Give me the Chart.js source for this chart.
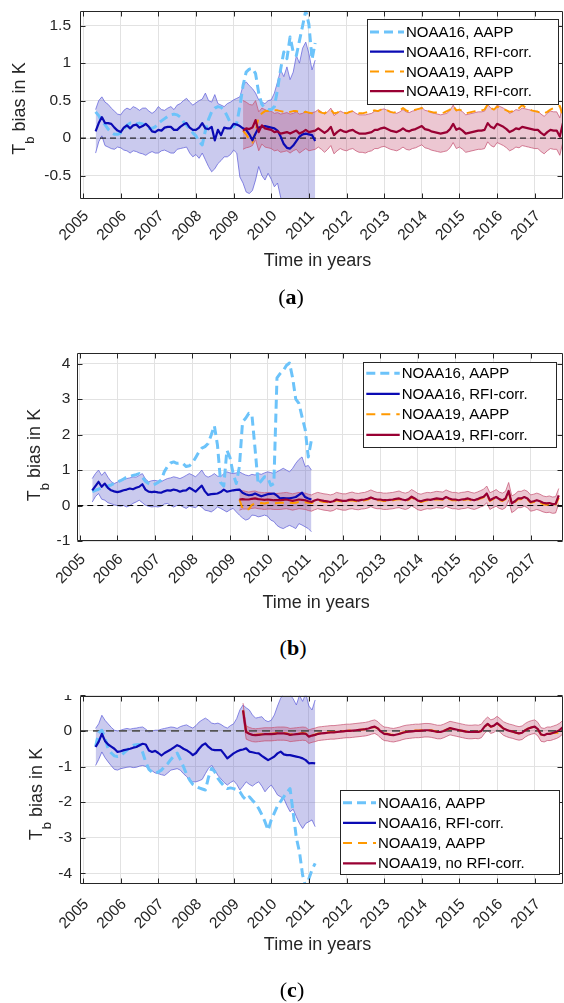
<!DOCTYPE html>
<html>
<head>
<meta charset="utf-8">
<title>Tb bias</title>
<script src="https://cdn.jsdelivr.net/npm/chart.js@4.4.1/dist/chart.umd.min.js"></script>
<style>
  html, body { margin: 0; padding: 0; background: #fff; }
  #page { position: relative; width: 564px; height: 1003px; overflow: hidden; }
  canvas { position: absolute; left: 0; }
  .sub { position: absolute; width: 60px; margin-left: -30px; text-align: center;
         font: 22px/24px "Liberation Serif", "Times New Roman", serif; color: #000; }
</style>
</head>
<body>
<div id="page">
  <canvas id="chartA" width="564" height="290" style="top:0px"></canvas>
  <canvas id="chartB" width="564" height="290" style="top:340px"></canvas>
  <canvas id="chartC" width="564" height="285" style="top:695px"></canvas>
  <div class="sub" style="left:291px;top:285px">(<b>a</b>)</div>
  <div class="sub" style="left:293px;top:636px">(<b>b</b>)</div>
  <div class="sub" style="left:292px;top:978px">(<b>c</b>)</div>
</div>
<script>
// tick values and legend texts
const yearTicks = [2005, 2006, 2007, 2008, 2009, 2010, 2011, 2012, 2013, 2014, 2015, 2016, 2017];
const ticksA = [-0.5, 0, 0.5, 1, 1.5];
const ticksB = [-1, 0, 1, 2, 3, 4];
const ticksC = [-4, -3, -2, -1, 0, 1];
const labelsAB = ['NOAA16, AAPP', 'NOAA16, RFI-corr.', 'NOAA19, AAPP', 'NOAA19, RFI-corr.'];
const labelsC = ['NOAA16, AAPP', 'NOAA16, RFI-corr.', 'NOAA19, AAPP', 'NOAA19, no RFI-corr.'];

// monthly time axes: NOAA16 May 2005 .. Mar 2011, NOAA19 Apr 2009 .. Oct 2017
function monthAxis(year, month, count) {
    let t = [];
    for (let i = 0; i < count; i++) {
        t.push(year + (month - 1 + i) / 12);
    }
    return t;
}
const time16 = monthAxis(2005, 5, 71);
const time19 = monthAxis(2009, 4, 103);

// ---- panel (a) ----
const a16aapp = [0.35,0.3,0.22,0.18,0.12,0.08,0.05,0.05,0.07,0.12,
    0.17,0.2,0.2,0.19,0.2,0.19,0.15,0.13,0.13,0.15,
    0.2,0.23,0.26,0.29,0.31,0.32,0.31,0.28,0.22,0.17,
    0.12,0.07,0.03,-0.05,-0.09,0.1,0.25,0.35,0.4,0.42,
    0.41,0.37,0.29,0.2,0.15,0.2,0.42,0.7,0.88,0.92,
    0.93,0.86,0.6,0.45,0.4,0.38,0.38,0.42,0.65,0.92,
    1.15,1.06,1.35,1.15,1.1,1.3,1.5,1.7,1.52,1.05,
    1.27];
const a16rfi = [0.09,0.2,0.28,0.2,0.2,0.19,0.14,0.1,0.08,0.14,
    0.17,0.13,0.17,0.18,0.14,0.16,0.19,0.15,0.09,0.08,
    0.11,0.1,0.14,0.15,0.15,0.11,0.11,0.15,0.18,0.2,
    0.14,0.11,0.11,0.14,0.2,0.13,0.12,0.15,-0.03,0.11,
    0.04,0.14,0.13,0.13,0.19,0.18,0.16,0.13,0.11,0.05,
    -0.03,0.06,0.14,0.15,0.16,0.15,0.14,0.13,0.1,0.02,
    -0.08,-0.13,-0.14,-0.1,-0.04,0.02,0.05,0.06,0.05,0.04,
    -0.04];
const a16hi = [0.38,0.5,0.55,0.48,0.45,0.4,0.36,0.32,0.31,0.37,
    0.4,0.38,0.42,0.4,0.37,0.4,0.4,0.36,0.33,0.36,
    0.42,0.38,0.37,0.4,0.42,0.38,0.44,0.46,0.5,0.53,
    0.48,0.44,0.47,0.5,0.52,0.6,0.5,0.48,0.58,0.46,
    0.44,0.42,0.46,0.48,0.51,0.53,0.55,0.7,0.75,0.7,
    0.66,0.6,0.51,0.48,0.46,0.5,0.51,0.6,0.75,0.91,
    0.82,0.95,0.78,0.88,1.1,1.0,1.2,1.28,1.13,0.91,
    1.04];
const a16lo = [-0.2,-0.05,0.03,-0.1,-0.12,-0.14,-0.15,-0.12,-0.13,-0.16,
    -0.17,-0.2,-0.17,-0.18,-0.2,-0.21,-0.23,-0.2,-0.18,-0.2,
    -0.2,-0.17,-0.16,-0.18,-0.2,-0.2,-0.15,-0.14,-0.13,-0.12,
    -0.2,-0.25,-0.22,-0.27,-0.2,-0.29,-0.38,-0.45,-0.41,-0.34,
    -0.3,-0.25,-0.25,-0.22,-0.16,-0.2,-0.52,-0.6,-0.72,-0.74,
    -0.7,-0.56,-0.38,-0.5,-0.56,-0.47,-0.55,-0.65,-0.6,-0.79,
    -1.0,-1.2,-1.3,-1.2,-1.3,-1.4,-1.2,-1.3,-0.95,-0.8,
    -0.95];
const a19aapp = [0.1,0.05,-0.02,-0.06,0.1,0.28,0.33,0.36,0.36,0.37,
    0.37,0.37,0.36,0.35,0.34,0.35,0.36,0.36,0.35,0.34,
    0.35,0.34,0.33,0.35,0.36,0.34,0.33,0.36,0.38,0.33,
    0.34,0.36,0.34,0.33,0.35,0.36,0.34,0.33,0.33,0.34,
    0.35,0.36,0.37,0.36,0.38,0.39,0.37,0.35,0.34,0.35,
    0.37,0.4,0.37,0.35,0.36,0.38,0.39,0.4,0.37,0.36,
    0.35,0.34,0.34,0.33,0.34,0.36,0.38,0.43,0.37,0.38,
    0.36,0.33,0.34,0.35,0.36,0.37,0.37,0.38,0.45,0.4,
    0.38,0.42,0.4,0.39,0.37,0.35,0.36,0.38,0.4,0.44,
    0.41,0.39,0.37,0.36,0.35,0.34,0.33,0.35,0.38,0.4,
    0.41,0.43,0.28];
const a19rfi = [0.1,0.13,0.12,0.14,0.24,0.08,0.17,0.13,0.12,0.11,
    0.08,0.09,0.06,0.07,0.08,0.06,0.08,0.1,0.06,0.08,
    0.11,0.08,0.09,0.1,0.13,0.1,0.07,0.1,0.15,0.04,
    0.08,0.11,0.09,0.08,0.1,0.11,0.08,0.06,0.06,0.06,
    0.07,0.08,0.11,0.11,0.13,0.14,0.12,0.1,0.09,0.08,
    0.1,0.13,0.1,0.09,0.11,0.12,0.14,0.16,0.12,0.11,
    0.09,0.08,0.07,0.06,0.07,0.08,0.12,0.19,0.11,0.13,
    0.1,0.06,0.07,0.08,0.09,0.1,0.1,0.11,0.2,0.15,
    0.13,0.19,0.17,0.15,0.12,0.08,0.1,0.13,0.12,0.15,
    0.14,0.13,0.12,0.11,0.11,0.07,0.04,0.08,0.11,0.1,
    0.1,0.02,0.2];
const a19hi = [0.5,0.48,0.45,0.44,0.5,0.35,0.4,0.38,0.36,0.36,
    0.33,0.34,0.32,0.33,0.34,0.32,0.33,0.35,0.32,0.33,
    0.36,0.33,0.34,0.35,0.38,0.35,0.32,0.35,0.4,0.3,
    0.33,0.36,0.34,0.33,0.35,0.36,0.33,0.31,0.31,0.31,
    0.32,0.33,0.36,0.36,0.38,0.39,0.37,0.35,0.34,0.33,
    0.35,0.38,0.35,0.34,0.36,0.37,0.39,0.41,0.37,0.36,
    0.34,0.33,0.32,0.31,0.32,0.33,0.37,0.44,0.36,0.38,
    0.35,0.31,0.32,0.33,0.34,0.35,0.35,0.36,0.45,0.4,
    0.38,0.44,0.42,0.4,0.37,0.33,0.35,0.38,0.37,0.4,
    0.39,0.38,0.37,0.36,0.36,0.32,0.29,0.33,0.36,0.35,
    0.35,0.27,0.45];
const a19lo = [-0.15,-0.13,-0.12,-0.1,-0.02,-0.17,-0.08,-0.12,-0.13,-0.14,
    -0.17,-0.16,-0.19,-0.18,-0.17,-0.2,-0.17,-0.15,-0.2,-0.17,
    -0.14,-0.17,-0.16,-0.15,-0.12,-0.15,-0.19,-0.15,-0.1,-0.21,
    -0.17,-0.14,-0.16,-0.17,-0.15,-0.14,-0.17,-0.19,-0.19,-0.2,
    -0.18,-0.17,-0.14,-0.14,-0.12,-0.11,-0.13,-0.15,-0.16,-0.17,
    -0.15,-0.12,-0.15,-0.16,-0.14,-0.13,-0.11,-0.09,-0.13,-0.14,
    -0.16,-0.17,-0.18,-0.19,-0.18,-0.17,-0.13,-0.06,-0.14,-0.12,
    -0.15,-0.19,-0.18,-0.17,-0.16,-0.15,-0.15,-0.14,-0.05,-0.1,
    -0.12,-0.06,-0.08,-0.1,-0.13,-0.17,-0.15,-0.12,-0.13,-0.1,
    -0.11,-0.12,-0.13,-0.14,-0.14,-0.18,-0.21,-0.17,-0.14,-0.15,
    -0.15,-0.23,-0.05];

// ---- panel (b) ----
const b16aapp = [0.39,0.43,0.46,0.5,0.52,0.55,0.58,0.62,0.66,0.7,
    0.75,0.8,0.82,0.85,0.87,0.9,0.8,0.68,0.62,0.57,
    0.6,0.65,0.72,0.95,1.1,1.2,1.23,1.19,1.2,1.18,
    1.1,1.12,1.2,1.35,1.5,1.62,1.66,1.75,1.99,2.25,
    1.7,0.65,0.55,1.56,1.35,0.9,0.62,1.1,2.36,2.46,
    2.6,2.55,1.6,0.6,0.7,0.81,0.8,0.57,0.62,3.6,
    3.72,3.8,3.95,4.02,3.6,3.0,2.88,2.5,2.15,1.37,
    1.85];
const b16rfi = [0.43,0.55,0.67,0.53,0.62,0.5,0.43,0.4,0.38,0.4,
    0.43,0.45,0.48,0.46,0.5,0.53,0.6,0.45,0.39,0.38,
    0.39,0.37,0.36,0.4,0.43,0.42,0.45,0.43,0.39,0.42,
    0.43,0.5,0.45,0.39,0.48,0.56,0.4,0.3,0.32,0.33,
    0.34,0.38,0.45,0.39,0.41,0.43,0.44,0.45,0.36,0.32,
    0.29,0.3,0.34,0.3,0.26,0.29,0.32,0.33,0.34,0.28,
    0.2,0.21,0.2,0.2,0.22,0.24,0.3,0.36,0.24,0.2,
    0.17];
const b16hi = [0.76,0.9,1.0,0.85,0.95,0.8,0.68,0.62,0.66,0.71,
    0.73,0.76,0.78,0.81,0.8,0.85,0.9,0.75,0.67,0.7,
    0.71,0.69,0.67,0.72,0.76,0.78,0.81,0.79,0.76,0.8,
    0.85,0.9,0.86,0.81,0.9,1.0,0.85,0.8,0.84,0.9,
    0.83,0.81,0.9,0.95,0.92,0.9,0.92,0.95,0.9,0.86,
    0.84,0.88,0.86,0.9,0.88,0.92,0.95,0.93,0.9,0.95,
    1.0,1.05,1.0,0.95,1.05,1.19,1.3,1.37,1.1,1.13,
    1.0];
const b16lo = [0.1,0.25,0.34,0.18,0.15,0.08,0.05,0.02,0.0,-0.02,
    0.0,-0.04,0.0,0.06,0.1,0.15,0.08,0.01,-0.02,-0.04,
    -0.03,-0.04,-0.02,0.04,0.06,0.0,-0.04,0.0,0.01,-0.04,
    -0.08,-0.02,-0.04,-0.06,0.01,-0.05,-0.13,-0.15,-0.18,-0.12,
    -0.04,-0.08,-0.13,-0.18,-0.12,-0.08,-0.18,-0.27,-0.35,-0.41,
    -0.38,-0.27,-0.28,-0.32,-0.3,-0.27,-0.3,-0.41,-0.45,-0.56,
    -0.62,-0.65,-0.6,-0.56,-0.6,-0.65,-0.51,-0.55,-0.6,-0.65,
    -0.74];
const b19aapp = [0.17,-0.08,-0.13,-0.1,0.02,0.06,0.06,0.07,0.06,0.08,
    0.07,0.06,0.07,0.08,0.08,0.09,0.08,0.07,0.08,0.1,
    0.1,0.09,0.08,0.07,0.1,0.13,0.12,0.1,0.1,0.08,
    0.1,0.15,0.13,0.11,0.11,0.14,0.15,0.13,0.12,0.14,
    0.15,0.17,0.21,0.17,0.15,0.15,0.13,0.13,0.14,0.15,
    0.17,0.18,0.15,0.13,0.16,0.23,0.18,0.12,0.1,0.13,
    0.15,0.14,0.16,0.18,0.17,0.16,0.22,0.18,0.15,0.15,
    0.13,0.15,0.16,0.18,0.15,0.13,0.16,0.2,0.23,0.32,
    0.13,0.18,0.22,0.16,0.13,0.18,0.38,0.04,0.1,0.18,
    0.18,0.22,0.18,0.08,0.1,0.13,0.08,0.04,0.02,0.04,
    0.02,0.03,0.22];
const b19rfi = [0.17,0.18,0.17,0.17,0.19,0.2,0.18,0.17,0.16,0.17,
    0.16,0.15,0.15,0.15,0.16,0.17,0.15,0.13,0.15,0.17,
    0.16,0.15,0.12,0.1,0.14,0.17,0.15,0.13,0.12,0.1,
    0.12,0.17,0.15,0.13,0.13,0.16,0.17,0.15,0.14,0.16,
    0.17,0.19,0.23,0.19,0.17,0.17,0.15,0.15,0.16,0.17,
    0.19,0.2,0.17,0.15,0.18,0.25,0.2,0.14,0.12,0.15,
    0.17,0.16,0.18,0.2,0.19,0.18,0.24,0.2,0.17,0.17,
    0.15,0.17,0.18,0.2,0.17,0.15,0.18,0.22,0.25,0.34,
    0.15,0.2,0.24,0.18,0.15,0.2,0.41,0.06,0.12,0.2,
    0.2,0.24,0.2,0.1,0.12,0.15,0.12,0.08,0.06,0.07,
    0.04,0.05,0.29];
const b19hi = [0.43,0.42,0.4,0.38,0.4,0.41,0.38,0.37,0.36,0.37,
    0.36,0.34,0.34,0.35,0.36,0.37,0.35,0.33,0.35,0.37,
    0.36,0.35,0.32,0.3,0.34,0.37,0.35,0.33,0.32,0.3,
    0.32,0.37,0.35,0.33,0.33,0.36,0.38,0.35,0.34,0.36,
    0.37,0.4,0.44,0.4,0.37,0.37,0.35,0.35,0.36,0.37,
    0.39,0.41,0.37,0.35,0.38,0.45,0.4,0.34,0.32,0.35,
    0.37,0.36,0.38,0.4,0.39,0.38,0.44,0.4,0.37,0.37,
    0.35,0.37,0.38,0.4,0.37,0.35,0.38,0.42,0.46,0.55,
    0.36,0.4,0.45,0.38,0.35,0.4,0.65,0.27,0.32,0.4,
    0.4,0.44,0.4,0.3,0.32,0.35,0.32,0.27,0.25,0.27,
    0.24,0.25,0.48];
const b19lo = [-0.13,-0.1,-0.1,-0.1,-0.08,-0.07,-0.09,-0.1,-0.11,-0.1,
    -0.1,-0.11,-0.11,-0.11,-0.1,-0.09,-0.11,-0.13,-0.11,-0.09,
    -0.1,-0.11,-0.14,-0.16,-0.12,-0.09,-0.11,-0.13,-0.14,-0.16,
    -0.14,-0.09,-0.11,-0.13,-0.13,-0.1,-0.09,-0.11,-0.12,-0.1,
    -0.09,-0.07,-0.03,-0.07,-0.09,-0.09,-0.11,-0.11,-0.1,-0.09,
    -0.07,-0.06,-0.09,-0.11,-0.08,-0.01,-0.06,-0.12,-0.14,-0.11,
    -0.09,-0.1,-0.08,-0.06,-0.07,-0.08,-0.02,-0.06,-0.09,-0.09,
    -0.11,-0.09,-0.08,-0.06,-0.09,-0.11,-0.08,-0.04,-0.01,0.08,
    -0.11,-0.06,-0.02,-0.08,-0.11,-0.06,0.15,-0.2,-0.14,-0.06,
    -0.06,-0.02,-0.06,-0.16,-0.14,-0.11,-0.14,-0.18,-0.2,-0.19,
    -0.22,-0.21,0.05];

// ---- panel (c) ----
const c16aapp = [-0.44,-0.05,0.02,-0.2,-0.5,-0.62,-0.7,-0.72,-0.7,-0.62,
    -0.54,-0.47,-0.4,-0.39,-0.38,-0.6,-0.88,-1.08,-1.16,-1.19,
    -1.15,-1.1,-1.0,-0.92,-0.8,-0.7,-0.62,-0.8,-1.0,-1.22,
    -1.38,-1.5,-1.55,-1.6,-1.63,-1.66,-1.3,-1.05,-1.15,-1.33,
    -1.45,-1.55,-1.62,-1.6,-1.62,-1.65,-1.71,-1.85,-1.94,-1.85,
    -1.95,-2.04,-2.18,-2.35,-2.55,-2.79,-2.5,-2.3,-2.1,-1.98,
    -1.85,-1.72,-1.62,-2.3,-3.0,-3.4,-4.05,-4.4,-4.15,-3.9,
    -3.72];
const c16rfi = [-0.45,-0.3,-0.08,-0.28,-0.38,-0.44,-0.5,-0.59,-0.57,-0.54,
    -0.52,-0.5,-0.47,-0.45,-0.4,-0.36,-0.38,-0.55,-0.59,-0.56,
    -0.62,-0.69,-0.62,-0.57,-0.52,-0.46,-0.4,-0.44,-0.5,-0.54,
    -0.6,-0.68,-0.62,-0.5,-0.4,-0.35,-0.45,-0.52,-0.54,-0.54,
    -0.54,-0.65,-0.77,-0.7,-0.63,-0.58,-0.54,-0.52,-0.49,-0.58,
    -0.6,-0.62,-0.63,-0.7,-0.76,-0.82,-0.77,-0.72,-0.63,-0.58,
    -0.66,-0.68,-0.68,-0.7,-0.72,-0.74,-0.77,-0.82,-0.91,-0.9,
    -0.91];
const c16hi = [0.07,0.2,0.44,0.3,0.2,0.1,0.02,0.0,0.02,0.05,
    0.07,0.05,0.07,0.08,0.1,0.11,0.05,-0.03,0.0,0.02,
    0.02,0.05,0.07,0.09,0.11,0.1,0.07,0.12,0.15,0.17,
    0.12,0.08,0.15,0.25,0.31,0.36,0.3,0.22,0.2,0.22,
    0.18,0.12,0.08,0.15,0.2,0.35,0.59,0.73,0.65,0.59,
    0.45,0.36,0.38,0.4,0.3,0.26,0.3,0.45,0.7,0.92,
    1.05,1.1,1.02,0.9,0.73,1.0,0.83,1.05,0.7,0.59,
    0.87];
const c16lo = [-0.97,-0.8,-0.59,-0.75,-0.87,-0.98,-1.08,-1.1,-1.06,-1.04,
    -1.02,-1.01,-1.03,-1.02,-0.99,-0.97,-1.0,-1.06,-1.12,-1.18,
    -1.2,-1.23,-1.25,-1.18,-1.1,-1.08,-1.06,-1.1,-1.2,-1.28,
    -1.38,-1.43,-1.43,-1.4,-1.36,-1.2,-1.05,-0.96,-1.1,-1.25,
    -1.35,-1.45,-1.52,-1.45,-1.4,-1.5,-1.66,-1.55,-1.43,-1.5,
    -1.55,-1.48,-1.43,-1.55,-1.71,-1.6,-1.52,-1.65,-1.8,-1.85,
    -1.9,-2.1,-2.27,-2.2,-2.41,-2.6,-2.74,-2.6,-2.55,-2.5,
    -2.69];
const c19aapp = [0.58,-0.02,-0.07,-0.1,-0.11,-0.1,-0.09,-0.08,-0.08,-0.08,
    -0.07,-0.06,-0.06,-0.06,-0.07,-0.1,-0.09,-0.08,-0.07,-0.06,
    -0.07,-0.15,-0.12,-0.1,-0.07,-0.06,-0.05,-0.04,-0.03,-0.03,
    -0.02,-0.01,0.0,0.0,0.01,0.02,0.02,0.03,0.04,0.05,
    0.07,0.1,0.11,0.07,-0.01,-0.07,-0.08,-0.1,-0.11,-0.09,
    -0.07,-0.04,-0.02,-0.01,0.0,0.01,0.01,0.02,0.03,0.02,
    0.02,0.0,-0.02,-0.02,0.01,0.04,0.07,0.06,0.04,0.02,
    0.0,-0.01,-0.03,-0.03,-0.02,-0.03,0.0,0.11,0.19,0.12,
    0.14,0.21,0.14,0.07,0.03,0.0,-0.02,-0.05,-0.07,-0.05,
    0.02,0.07,0.1,0.11,0.04,-0.1,-0.12,-0.08,-0.07,-0.06,
    -0.05,-0.05,-0.04];
const c19rfi = [0.58,-0.03,-0.08,-0.11,-0.12,-0.11,-0.1,-0.09,-0.09,-0.09,
    -0.08,-0.07,-0.07,-0.07,-0.08,-0.11,-0.1,-0.09,-0.08,-0.07,
    -0.08,-0.16,-0.13,-0.11,-0.08,-0.07,-0.06,-0.05,-0.04,-0.04,
    -0.03,-0.02,-0.01,0.0,0.0,0.01,0.02,0.03,0.04,0.05,
    0.07,0.1,0.12,0.07,-0.02,-0.08,-0.09,-0.11,-0.12,-0.1,
    -0.08,-0.05,-0.03,-0.02,-0.01,0.0,0.0,0.01,0.02,0.02,
    0.01,-0.01,-0.03,-0.03,0.0,0.04,0.08,0.06,0.04,0.02,
    0.0,-0.02,-0.03,-0.03,-0.02,-0.03,0.0,0.12,0.2,0.12,
    0.15,0.22,0.15,0.07,0.03,0.0,-0.02,-0.05,-0.07,-0.05,
    0.02,0.07,0.1,0.12,0.05,-0.1,-0.12,-0.08,-0.08,-0.05,
    -0.02,0.03,0.11];
const c19hi = [0.78,0.14,0.1,0.07,0.06,0.07,0.08,0.09,0.09,0.09,
    0.1,0.11,0.11,0.11,0.1,0.07,0.08,0.09,0.1,0.11,
    0.1,0.03,0.06,0.08,0.11,0.12,0.13,0.14,0.15,0.15,
    0.16,0.17,0.18,0.19,0.19,0.2,0.21,0.22,0.23,0.24,
    0.26,0.29,0.31,0.26,0.17,0.11,0.1,0.08,0.07,0.09,
    0.11,0.14,0.16,0.17,0.18,0.19,0.19,0.2,0.21,0.21,
    0.2,0.18,0.16,0.16,0.19,0.23,0.27,0.25,0.23,0.21,
    0.19,0.17,0.16,0.16,0.17,0.16,0.19,0.31,0.39,0.31,
    0.34,0.41,0.34,0.26,0.22,0.19,0.17,0.14,0.12,0.14,
    0.21,0.26,0.29,0.31,0.24,0.09,0.07,0.11,0.11,0.14,
    0.17,0.22,0.3];
const c19lo = [0.4,-0.23,-0.27,-0.3,-0.31,-0.3,-0.29,-0.28,-0.28,-0.28,
    -0.27,-0.26,-0.26,-0.26,-0.27,-0.3,-0.29,-0.28,-0.27,-0.26,
    -0.27,-0.35,-0.32,-0.3,-0.27,-0.26,-0.25,-0.24,-0.23,-0.23,
    -0.22,-0.21,-0.2,-0.19,-0.19,-0.18,-0.17,-0.16,-0.15,-0.14,
    -0.12,-0.09,-0.07,-0.12,-0.21,-0.27,-0.28,-0.3,-0.31,-0.29,
    -0.27,-0.24,-0.22,-0.21,-0.2,-0.19,-0.19,-0.18,-0.17,-0.17,
    -0.18,-0.2,-0.22,-0.22,-0.19,-0.15,-0.11,-0.13,-0.15,-0.17,
    -0.19,-0.21,-0.22,-0.22,-0.21,-0.22,-0.19,-0.07,0.01,-0.07,
    -0.04,0.03,-0.04,-0.12,-0.16,-0.19,-0.21,-0.24,-0.26,-0.24,
    -0.17,-0.12,-0.09,-0.07,-0.14,-0.29,-0.31,-0.27,-0.27,-0.24,
    -0.21,-0.16,-0.08];

const FONT = '"Liberation Sans", Arial, sans-serif';
const INK = '#262626';
const GRID = '#e2e2e2';

function pts(t, v) {
    return v.map((y, i) => ({x: t[i], y: y}));
}

// draws the axes box, inward ticks, legend and axis titles
function framePlugin(p) {
    return {
        id: 'frame',
        afterDatasetsDraw(chart) {
            const ctx = chart.ctx, a = chart.chartArea;
            const xs = chart.scales.x, ys = chart.scales.y;
            const L = Math.round(a.left) + 0.5, R = Math.round(a.right) - 0.5;
            const T = Math.round(a.top) + 0.5, B = Math.round(a.bottom) - 0.5;
            ctx.save();
            ctx.strokeStyle = INK;
            ctx.lineWidth = 1;
            ctx.beginPath();
            ctx.rect(L, T, R - L, B - T);
            xs.ticks.forEach(tk => {
                const x = Math.round(xs.getPixelForValue(tk.value)) + 0.5;
                ctx.moveTo(x, B); ctx.lineTo(x, B - 5);
                ctx.moveTo(x, T); ctx.lineTo(x, T + 5);
            });
            ys.ticks.forEach(tk => {
                const y = Math.round(ys.getPixelForValue(tk.value)) + 0.5;
                ctx.moveTo(L, y); ctx.lineTo(L + 5, y);
                ctx.moveTo(R, y); ctx.lineTo(R - 5, y);
            });
            ctx.stroke();

            // legend box
            const lg = p.legend;
            ctx.fillStyle = '#fff';
            ctx.fillRect(lg.x, lg.y, lg.w, lg.h);
            ctx.strokeStyle = INK;
            ctx.strokeRect(Math.round(lg.x) + 0.5, Math.round(lg.y) + 0.5, Math.round(lg.w), Math.round(lg.h));
            p.labels.forEach((text, k) => {
                const ds = chart.data.datasets.find(d => d.label === text);
                const y = lg.y + lg.row0 + k * lg.step;
                ctx.beginPath();
                ctx.setLineDash(ds.borderDash || []);
                ctx.strokeStyle = ds.borderColor;
                ctx.lineWidth = ds.borderWidth;
                ctx.moveTo(lg.x + 3, y);
                ctx.lineTo(lg.x + 3 + lg.sample, y);
                ctx.stroke();
                ctx.setLineDash([]);
                ctx.fillStyle = '#000';
                ctx.font = '15px ' + FONT;
                ctx.textAlign = 'left';
                ctx.textBaseline = 'middle';
                ctx.fillText(text, lg.x + lg.sample + 5, y + 1);
            });
            ctx.restore();
        },
        afterDraw(chart) {
            const ctx = chart.ctx, a = chart.chartArea;
            ctx.save();
            ctx.fillStyle = INK;
            ctx.font = '18px ' + FONT;
            ctx.textAlign = 'center';
            ctx.textBaseline = 'middle';
            ctx.fillText('Time in years', (a.left + a.right) / 2 - 4, p.xTitleY);

            // y title with subscript
            const big = '18px ' + FONT, small = '13px ' + FONT;
            const rest = ' bias in K';
            ctx.font = big;
            const wT = ctx.measureText('T').width;
            const wR = ctx.measureText(rest).width;
            ctx.font = small;
            const wb = ctx.measureText('b').width;
            const x0 = -(wT + wb + wR) / 2;
            ctx.translate(p.yTitle.x, p.yTitle.y);
            ctx.rotate(-Math.PI / 2);
            ctx.textAlign = 'left';
            ctx.textBaseline = 'alphabetic';
            ctx.font = big;
            ctx.fillText('T', x0, 0);
            ctx.font = small;
            ctx.fillText('b', x0 + wT, 9);
            ctx.font = big;
            ctx.fillText(rest, x0 + wT + wb, 0);
            ctx.restore();
        }
    };
}

function makeChart(p) {
    const canvas = document.getElementById(p.canvas);
    const H = canvas.height;
    const datasets = [
        {data: pts(time16, p.n16hi), borderColor: 'rgba(100,100,220,0.75)', borderWidth: 1,
         backgroundColor: 'rgba(80,80,200,0.3)', fill: '+1', order: 10},
        {data: pts(time16, p.n16lo), borderColor: 'rgba(100,100,220,0.75)', borderWidth: 1, order: 10},
        {data: pts(time19, p.n19hi), borderColor: 'rgba(200,90,120,0.75)', borderWidth: 1,
         backgroundColor: 'rgba(180,40,80,0.26)', fill: '+1', order: 9},
        {data: pts(time19, p.n19lo), borderColor: 'rgba(200,90,120,0.75)', borderWidth: 1, order: 9},
        {data: [{x: p.xMin, y: 0}, {x: p.xMax, y: 0}], borderColor: p.zero.color,
         borderWidth: p.zero.width, borderDash: p.zero.dash, order: 8},
        {label: p.labels[0], data: pts(time16, p.n16aapp), borderColor: '#6cc3fa',
         borderWidth: 3, borderDash: [9, 5], order: 7},
        {label: p.labels[2], data: pts(time19, p.n19aapp), borderColor: '#ff9900',
         borderWidth: 2, borderDash: [9, 6], order: 6},
        {label: p.labels[1], data: pts(time16, p.n16rfi), borderColor: '#0a0ab4',
         borderWidth: 2.2, order: 5},
        {label: p.labels[3], data: pts(time19, p.n19rfi), borderColor: '#990033',
         borderWidth: 2.2, order: 4}
    ];
    datasets.forEach(d => {
        d.clip = 0;
        d.pointRadius = 0;
        d.borderJoinStyle = 'round';
        if (d.fill === undefined) d.fill = false;
    });

    return new Chart(canvas.getContext('2d'), {
        type: 'line',
        data: {datasets: datasets},
        options: {
            responsive: false,
            animation: false,
            events: [],
            layout: {padding: {left: 0, right: 1, top: p.top, bottom: H - p.bottom - 80}},
            plugins: {legend: {display: false}, tooltip: {enabled: false}},
            elements: {line: {tension: 0}},
            scales: {
                x: {
                    type: 'linear', min: p.xMin, max: p.xMax,
                    grid: {color: GRID, drawTicks: false},
                    border: {display: false},
                    ticks: {font: {family: FONT, size: 15.5}, color: INK, autoSkip: false,
                            minRotation: 45, maxRotation: 45, padding: p.tickPadX, labelOffset: 3.3,
                            callback: v => String(v)},
                    afterBuildTicks: s => { s.ticks = yearTicks.map(v => ({value: v})); },
                    afterFit: s => { s.height = 80; s.paddingLeft = 0; s.paddingRight = 0; }
                },
                y: {
                    type: 'linear', min: p.yMin, max: p.yMax,
                    grid: {color: GRID, drawTicks: false},
                    border: {display: false},
                    ticks: {font: {family: FONT, size: 15.5}, color: INK, autoSkip: false,
                            padding: p.tickPadY, callback: v => String(v)},
                    afterBuildTicks: s => { s.ticks = p.yTicks.map(v => ({value: v})); },
                    afterFit: s => { s.width = p.left; s.paddingTop = 0; s.paddingBottom = 0; }
                }
            }
        },
        plugins: [framePlugin(p)]
    });
}

makeChart({
    canvas: 'chartA', xMin: 2004.919, xMax: 2017.751, yMin: -0.813, yMax: 1.7, yTicks: ticksA,
    left: 80, top: 10.7, bottom: 199, tickPadX: 8, tickPadY: 9,
    xTitleY: 261, yTitle: {x: 25, y: 108.5},
    legend: {x: 367, y: 19, w: 191, h: 85, row0: 13, step: 19.7, sample: 34},
    labels: labelsAB, zero: {color: '#000', width: 1, dash: [6, 4]},
    n16aapp: a16aapp, n16rfi: a16rfi, n16hi: a16hi, n16lo: a16lo,
    n19aapp: a19aapp, n19rfi: a19rfi, n19hi: a19hi, n19lo: a19lo
});

makeChart({
    canvas: 'chartB', xMin: 2004.935, xMax: 2017.863, yMin: -1, yMax: 4.31, yTicks: ticksB,
    left: 77.3, top: 12.7, bottom: 201, tickPadX: 9.3, tickPadY: 7,
    xTitleY: 263, yTitle: {x: 39.5, y: 115},
    legend: {x: 363.3, y: 22, w: 192.7, h: 84.7, row0: 11.3, step: 20.5, sample: 33.4},
    labels: labelsAB, zero: {color: '#000', width: 1, dash: [6, 4]},
    n16aapp: b16aapp, n16rfi: b16rfi, n16hi: b16hi, n16lo: b16lo,
    n19aapp: b19aapp, n19rfi: b19rfi, n19hi: b19hi, n19lo: b19lo
});

makeChart({
    canvas: 'chartC', xMin: 2004.919, xMax: 2017.751, yMin: -4.3, yMax: 0.99, yTicks: ticksC,
    left: 80, top: 0.7, bottom: 189, tickPadX: 11.3, tickPadY: 8,
    xTitleY: 250, yTitle: {x: 41.7, y: 99},
    legend: {x: 340, y: 95, w: 219, h: 84, row0: 12.7, step: 20.2, sample: 33},
    labels: labelsC, zero: {color: '#555', width: 1.8, dash: [8, 5]},
    n16aapp: c16aapp, n16rfi: c16rfi, n16hi: c16hi, n16lo: c16lo,
    n19aapp: c19aapp, n19rfi: c19rfi, n19hi: c19hi, n19lo: c19lo
});
</script>
</body>
</html>
